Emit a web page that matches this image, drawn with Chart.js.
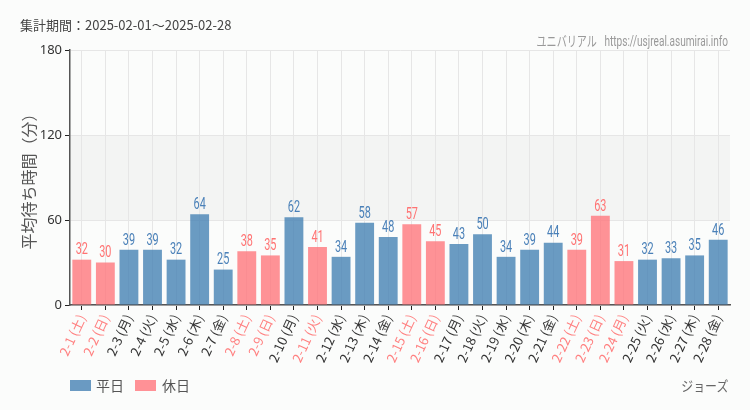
<!DOCTYPE html>
<html><head><meta charset="utf-8">
<script src="https://cdn.jsdelivr.net/npm/chart.js@4.4.0/dist/chart.umd.min.js"></script>
<style>
html,body{margin:0;padding:0;background:#fbfcfb;}
#wrap{position:relative;width:750px;height:410px;overflow:hidden;font-family:"Noto Sans CJK JP","Noto Sans",sans-serif;}
#c{position:absolute;left:0;top:0;}
.t{position:absolute;white-space:nowrap;}
#title{left:20px;top:15px;font-size:13px;color:#444;}
#wm{right:22px;top:30px;font-size:14px;color:#999;font-family:Roboto,"Noto Sans CJK JP",sans-serif;transform:scaleX(0.72);transform-origin:right center;}
#park{right:22px;top:375px;font-size:14px;color:#666;transform:scaleX(0.85);transform-origin:right center;}
.lg{position:absolute;top:380px;width:21px;height:11px;}
.lt{position:absolute;top:375px;font-size:14px;color:#555;}
</style></head>
<body>
<div id="wrap">
<canvas id="c" width="750" height="410"></canvas>
<div class="t" id="title">集計期間：2025-02-01～2025-02-28</div>
<div class="t" id="wm">ユニバリアル&nbsp;&nbsp; https://usjreal.asumirai.info</div>
<div class="lg" style="left:70px;background:#6a9ac2;"></div><div class="lt" style="left:96px;">平日</div>
<div class="lg" style="left:135px;background:#ff9196;"></div><div class="lt" style="left:162px;">休日</div>
<div class="t" id="park">ジョーズ</div>
</div>
<script>
const categories = ['2-1 (土)','2-2 (日)','2-3 (月)','2-4 (火)','2-5 (水)','2-6 (木)','2-7 (金)',
 '2-8 (土)','2-9 (日)','2-10 (月)','2-11 (火)','2-12 (水)','2-13 (木)','2-14 (金)',
 '2-15 (土)','2-16 (日)','2-17 (月)','2-18 (火)','2-19 (水)','2-20 (木)','2-21 (金)',
 '2-22 (土)','2-23 (日)','2-24 (月)','2-25 (火)','2-26 (水)','2-27 (木)','2-28 (金)'];
const waitValues = [32,30,39,39,32,64,25,38,35,62,41,34,58,48,57,45,43,50,34,39,44,39,63,31,32,33,35,46];
const isHoliday = [1,1,0,0,0,0,0,1,1,0,1,0,0,0,1,1,0,0,0,0,0,1,1,1,0,0,0,0];
const yTicks = [0,60,120,180];

const weekdayData = waitValues.map((v,i)=>isHoliday[i]?null:v);
const holidayData = waitValues.map((v,i)=>isHoliday[i]?v:null);

const bandPlugin = {
  id:'band',
  beforeDraw(chart){
    const {ctx, chartArea:a, scales:{y}} = chart;
    ctx.save();
    ctx.fillStyle = '#f3f4f3';
    const t = y.getPixelForValue(120), b = y.getPixelForValue(60);
    ctx.fillRect(a.left, t, a.right-a.left, b-t);
    ctx.restore();
  }
};
const labelPlugin = {
  id:'vlabels',
  afterDatasetsDraw(chart){
    const ctx = chart.ctx;
    chart.data.datasets.forEach((ds,di)=>{
      const meta = chart.getDatasetMeta(di);
      meta.data.forEach((el,i)=>{
        const v = ds.data[i];
        if (v===null||v===undefined) return;
        ctx.save();
        ctx.translate(el.x, el.y-1);
        ctx.scale(0.64,1);
        ctx.font = '17px Roboto, "Noto Sans", sans-serif';
        ctx.textAlign = 'center';
        ctx.textBaseline = 'bottom';
        ctx.fillStyle = ds.labelColor;
        ctx.fillText(String(v), 0, 0);
        ctx.restore();
      });
    });
  }
};

new Chart(document.getElementById('c'), {
  type:'bar',
  data:{
    labels:categories,
    datasets:[
      {label:'平日', data:weekdayData, backgroundColor:'rgba(70,130,180,0.8)', labelColor:'#4a80b8', stack:'s'},
      {label:'休日', data:holidayData, backgroundColor:'rgba(255,115,122,0.78)', labelColor:'#ff7373', stack:'s'}
    ]
  },
  options:{
    responsive:false,
    animation:false,
    layout:{padding:{top:50,right:20,left:0,bottom:0}},
    datasets:{bar:{barPercentage:0.8,categoryPercentage:1.0}},
    plugins:{legend:{display:false}, tooltip:{enabled:false}},
    scales:{
      x:{
        stacked:true,
        afterFit(s){ s.height = 105; },
        grid:{display:true, offset:false, color:'#e6e6e6', tickColor:'#222', tickLength:5, drawTicks:true},
        border:{color:'#555', width:1.5},
        ticks:{
          minRotation:65, maxRotation:65, autoSkip:false, padding:2,
          font:{size:13, family:'"Noto Sans CJK JP", sans-serif'},
          color:(c)=> isHoliday[c.index] ? '#ff8080' : '#333'
        }
      },
      y:{
        stacked:true,
        min:0, max:180,
        afterFit(s){ s.width = 70; },
        afterBuildTicks(s){ s.ticks = yTicks.map(v=>({value:v})); },
        grid:{color:'#e6e6e6', tickColor:'#222', tickLength:5},
        border:{color:'#555', width:1.5},
        ticks:{font:{size:13, family:'"Noto Sans", sans-serif'}, color:'#333', padding:3},
        title:{display:true, text:'平均待ち時間（分）', color:'#555',
          font:{size:16, family:'"Noto Sans CJK JP", sans-serif'}, padding:{top:19,bottom:0}}
      }
    }
  },
  plugins:[bandPlugin,labelPlugin]
});
</script>
</body></html>
